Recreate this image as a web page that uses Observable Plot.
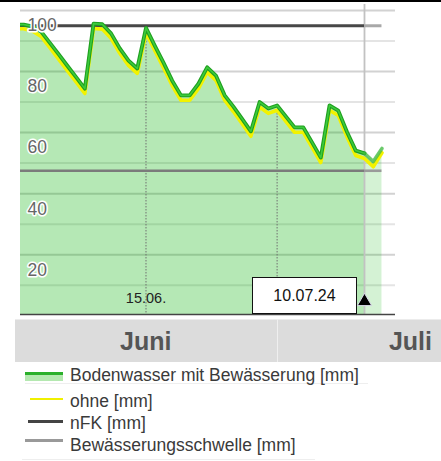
<!DOCTYPE html>
<html><head><meta charset="utf-8">
<script src="https://cdn.jsdelivr.net/npm/d3@7"></script>
<script src="https://cdn.jsdelivr.net/npm/@observablehq/plot@0.6"></script>
<style>
body{margin:0;background:#fff;font-family:"Liberation Sans",Arial,sans-serif;}
#wrap{position:relative;width:441px;height:461px;overflow:hidden;background:#fff;}
#wrap svg{position:absolute;left:0;top:0;}
.abs{position:absolute;}
.leg{position:absolute;left:70px;font-size:17.5px;color:#3a3a3a;white-space:nowrap;line-height:20px;}
</style></head><body><div id="wrap"></div>
<script>
// ---- data ----
const days = ["2024-05-31",
 "2024-06-01","2024-06-02","2024-06-03","2024-06-04","2024-06-05","2024-06-06","2024-06-07","2024-06-08","2024-06-09","2024-06-10",
 "2024-06-11","2024-06-12","2024-06-13","2024-06-14","2024-06-15","2024-06-16","2024-06-17","2024-06-18","2024-06-19","2024-06-20",
 "2024-06-21","2024-06-22","2024-06-23","2024-06-24","2024-06-25","2024-06-26","2024-06-27","2024-06-28","2024-06-29","2024-06-30",
 "2024-07-01","2024-07-02","2024-07-03","2024-07-04","2024-07-05","2024-07-06","2024-07-07","2024-07-08","2024-07-09","2024-07-10",
 "2024-07-11","2024-07-12"];
const mitBewaesserung = [100.4,
 100.4,99.8,98.1,94.4,90.7,86.9,83.2,79.4,100.7,100.5,
 97.5,92.6,88.6,86.0,99.3,93.5,87.9,82.0,77.2,77.2,
 81.0,86.4,83.7,77.2,73.5,69.5,65.4,75.0,72.9,73.9,
 70.3,66.7,66.7,61.8,56.8,73.9,72.2,65.2,59.1,58.2,
 55.5,59.8];
const ohne = [99.0,
 99.0,98.3,96.5,92.8,89.1,85.3,81.6,77.8,99.1,98.9,
 95.9,91.0,87.0,84.4,97.7,91.9,86.3,80.4,75.6,75.6,
 79.4,84.8,82.1,75.6,71.9,67.9,63.8,73.4,71.3,72.3,
 68.7,65.1,65.1,60.2,55.2,72.3,70.6,63.6,57.5,56.5,
 53.8,58.4];
const nfk = 100;
const schwelle = 52.5;
const today = "2024-07-10";
const markerDays = ["2024-06-15","2024-06-30"];
const yLabels = [20,40,60,80,100];
const gridMajor = [25,45,65,85,105];
const gridMinor = [15,35,55,75,95];
const xDomain = ["2024-05-31T15:23Z","2024-07-13T13:08Z"];
const yDomain = [5.4,105];
const months = ["Juni","Juli"];
const monthBreak = "2024-06-30";
const legendLabels = ["Bodenwasser mit Bewässerung [mm]","ohne [mm]","nFK [mm]","Bewässerungsschwelle [mm]"];

// ---- build ----
const P = d3.isoParse;
const T = P(today);
const rows = days.map((d,i)=>({date:P(d), mit:mitBewaesserung[i], ohne:ohne[i]}));
const past = rows.filter(r=>r.date<=T);
const fut = rows.filter(r=>r.date>=T);
const first = rows[0].date, last = rows[rows.length-1].date;
const markers = markerDays.map(d=>({date:P(d), v:rows.find(r=>+r.date===+P(d)).ohne}));
const fmtShort = d3.utcFormat("%d.%m.");
const fmtLong = d3.utcFormat("%d.%m.%y");
const FF = "Liberation Sans, Arial, sans-serif";

const chart = Plot.plot({
  width:441, height:320,
  marginLeft:20, marginRight:46, marginTop:10, marginBottom:6,
  x:{type:"utc", domain:xDomain.map(P), axis:null},
  y:{domain:yDomain, axis:null},
  style:{fontFamily:FF, background:"transparent"},
  marks:[
    Plot.ruleY(gridMinor,{stroke:"#e4e4e4", strokeWidth:2}),
    Plot.ruleY(gridMajor,{stroke:"#d2d2d2", strokeWidth:2}),
    Plot.areaY(past,{x:"date", y:"mit", fill:"rgb(0,175,0)", fillOpacity:0.29, clip:true}),
    Plot.areaY(fut,{x:"date", y:"mit", fill:"rgb(0,175,0)", fillOpacity:0.17, clip:true}),
    Plot.ruleX([T],{stroke:"#c2c2c2", strokeWidth:1.8, insetTop:-6}),
    Plot.ruleX(markers,{x:"date", y:"v", stroke:"#707070", strokeWidth:1, strokeDasharray:"1.5,1.5", clip:true}),
    Plot.ruleY([{y:schwelle,x1:first,x2:T}],{y:"y",x1:"x1",x2:"x2",stroke:"#7b7b7b",strokeWidth:2.6,clip:true}),
    Plot.ruleY([{y:schwelle,x1:T,x2:last}],{y:"y",x1:"x1",x2:"x2",stroke:"#9a9a9a",strokeWidth:2.6,clip:true}),
    Plot.ruleY([{y:nfk,x1:first,x2:T}],{y:"y",x1:"x1",x2:"x2",stroke:"#474747",strokeWidth:3,clip:true}),
    Plot.ruleY([{y:nfk,x1:T,x2:last}],{y:"y",x1:"x1",x2:"x2",stroke:"#a8a8a8",strokeWidth:3,clip:true}),
    Plot.lineY(rows,{x:"date", y:"ohne", stroke:"#f2f200", strokeWidth:3.6, clip:true}),
    Plot.lineY(past,{x:"date", y:"mit", stroke:"#1f9f1f", strokeWidth:3.8, clip:true}),
    Plot.lineY(past,{x:"date", y:"mit", stroke:"#3ccb3c", strokeWidth:1.6, clip:true}),
    Plot.lineY(fut,{x:"date", y:"mit", stroke:"#3cb83c", strokeWidth:3.6, strokeOpacity:0.75, clip:true}),
    Plot.ruleY([yDomain[0]],{stroke:"#444", strokeWidth:1.6}),
    Plot.text(yLabels,{y:d=>d, text:d=>String(d), frameAnchor:"left", dx:7, textAnchor:"start",
      fontSize:17.5, fill:"#666", stroke:"white", strokeWidth:3, fontFamily:FF}),
    Plot.text([markers[0]],{x:"date", text:d=>fmtShort(d.date), frameAnchor:"bottom", dy:-12,
      fontSize:14.5, fill:"#222", fontFamily:FF}),
    Plot.dot([T],{x:d=>d, frameAnchor:"bottom", dy:-13, symbol:"triangle", r:5.3, fill:"#000", stroke:"#dde", strokeWidth:1})
  ]
});
const wrap = document.getElementById("wrap");
wrap.appendChild(chart);
const xs = chart.scale("x");
const tx = xs.apply(T);
const mb = xs.apply(P(monthBreak));

function div(css, html){const e=document.createElement("div"); e.className="abs"; e.style.cssText=css; if(html!=null) e.innerHTML=html; wrap.appendChild(e); return e;}
// top border
div("left:0;top:0;width:441px;height:2px;background:#000;");
// date box
div(`left:${tx-112}px;top:277px;width:105px;height:37px;box-sizing:border-box;border:1.5px solid #111;background:#fff;font-size:16px;color:#111;display:flex;align-items:center;justify-content:center;`, fmtLong(T));
// month band
div("left:15px;top:319px;width:430px;height:43px;background:#dcdcdc;border-top:1px solid #ececec;box-sizing:border-box;");
div(`left:${mb}px;top:319px;width:1px;height:43px;background:#efefef;`);
div(`left:15px;top:320px;width:${mb-15}px;height:42px;display:flex;align-items:center;justify-content:center;font-weight:bold;font-size:25px;color:#555;`, months[0]);
div(`left:${mb}px;top:320px;width:${432-mb}px;height:42px;display:flex;align-items:center;justify-content:flex-end;font-weight:bold;font-size:25px;color:#555;`, months[1]);
// legend
div("left:25px;top:372px;width:38px;height:9px;background:#b4e8b0;border-top:3px solid #2bb02b;box-sizing:border-box;");
div("left:30px;top:398px;width:33px;height:2px;background:#f0f000;");
div("left:28px;top:420px;width:35px;height:2.5px;background:#444;");
div("left:25px;top:439px;width:38px;height:2.5px;background:#999;");
div("left:25px;top:383px;width:343px;height:1px;background:#eeeeee;");
div("left:22px;top:459px;width:293px;height:1px;background:#eeeeee;");
const legTops=[365,391,413,435];
legendLabels.forEach((t,i)=>{const e=document.createElement("div"); e.className="leg"; e.style.top=legTops[i]+"px"; e.textContent=t; wrap.appendChild(e);});
</script></body></html>
